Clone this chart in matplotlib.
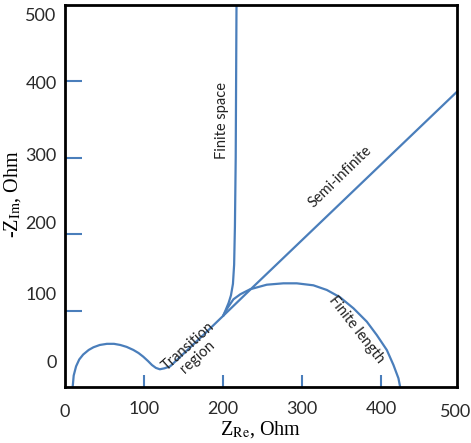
import matplotlib
matplotlib.use("Agg")
import matplotlib.pyplot as plt
from matplotlib.ticker import FixedLocator, NullFormatter, FixedFormatter

plt.rcParams['mathtext.fontset'] = 'stix'

# ---- data ----
# high-frequency arc + transition region (Warburg onset)
main_x = [9.7, 11, 14, 18, 23, 30, 36, 44, 53, 62, 70, 78, 86.5, 93, 99, 105,
          110, 115, 120, 126, 133, 155, 178, 200]
main_y = [0, 15, 27, 36, 42.5, 48.5, 52, 55, 56.5, 56.5, 55, 52.5, 48.5, 44.5,
          39.7, 34, 28.8, 25, 23.2, 24.5, 27, 48.5, 71, 93]
# semi-infinite branch
semi_x = [200, 238, 335, 496]
semi_y = [93, 131, 227, 386.5]
# finite space branch
fs_x = [200, 203, 207, 210, 212.5, 214, 215, 216, 216.5, 217]
fs_y = [93, 100, 110, 120, 135, 160, 210, 300, 400, 500]
# finite length branch
fl_x = [200, 206, 213.1, 222, 234.2, 255.3, 276.3, 293.3, 314.3, 331.3, 348.1,
        365, 381.9, 394.5, 407.2, 415.6, 421.9, 424]
fl_y = [93, 104, 114.8, 121.5, 127.9, 133.9, 135.7, 135.7, 133.1, 127, 117.4,
        103, 85.5, 68, 48.4, 28.8, 11.4, 0.4]

x_ticks = [100, 200, 300, 400]
x_tick_labels = ["100", "200", "300", "400"]
x_edge_label_pos = [0, 494]
x_edge_labels = ["0", "500"]
y_ticks = [100, 200, 300, 400]
y_label_pos = [33, 123, 215, 304, 399, 487]
y_labels = ["0", "100", "200", "300", "400", "500"]

line_color = "#4a7ebb"

fig = plt.figure(figsize=(4.71, 4.43), dpi=100)
ax = fig.add_axes([65/471, 1-387/443, (457-65)/471, (387-5)/443])

for xs, ys in [(main_x, main_y), (semi_x, semi_y), (fs_x, fs_y), (fl_x, fl_y)]:
    ax.plot(xs, ys, color=line_color, lw=1.6, solid_capstyle='round',
            solid_joinstyle='round', clip_on=True)

ax.set_xlim(0, 496)
ax.set_ylim(0, 500)

for s in ax.spines.values():
    s.set_linewidth(2)
    s.set_color("black")

# x ticks
ax.xaxis.set_major_locator(FixedLocator(x_ticks))
ax.xaxis.set_major_formatter(FixedFormatter(x_tick_labels))
ax.xaxis.set_minor_locator(FixedLocator(x_edge_label_pos))
ax.xaxis.set_minor_formatter(FixedFormatter(x_edge_labels))
ax.tick_params(axis='x', which='major', direction='in', length=9, width=1.5,
               color=line_color, pad=10)
ax.tick_params(axis='x', which='minor', length=0, pad=12)

# y ticks
ax.yaxis.set_major_locator(FixedLocator(y_ticks))
ax.yaxis.set_major_formatter(NullFormatter())
ax.yaxis.set_minor_locator(FixedLocator(y_label_pos))
ax.yaxis.set_minor_formatter(FixedFormatter(y_labels))
ax.tick_params(axis='y', which='major', direction='in', length=12, width=1.5,
               color=line_color)
ax.tick_params(axis='y', which='minor', length=0, pad=6)

for lab in ax.get_xticklabels(which='both') + ax.get_yticklabels(which='both'):
    lab.set_fontfamily('Lato')
    lab.set_fontsize(13)
    lab.set_color('#2a2a2a')

ax.set_xlabel(r"Z$_{\mathrm{Re}}$, Ohm", fontfamily='Liberation Serif',
              fontsize=14.5, labelpad=0)
ax.set_ylabel(r"-Z$_{\mathrm{Im}}$, Ohm", fontfamily='Liberation Serif',
              fontsize=14.5, labelpad=1)
ax.xaxis.set_label_coords(0.5, -0.085)
ax.yaxis.set_label_coords(-0.108, 0.505)

txt = dict(fontfamily='Lato', fontsize=10.5, color='#222222', ha='center', va='center')
ax.text(198.5, 349, "Finite space", rotation=90, **txt)
ax.text(348, 275, "Semi-infinite", rotation=44, **txt)
ax.text(162, 46, "Transition\nregion", rotation=42, linespacing=1.0, **txt)
ax.text(369, 75, "Finite length", rotation=-52, **txt)

fig.savefig("out.png", dpi=100)
